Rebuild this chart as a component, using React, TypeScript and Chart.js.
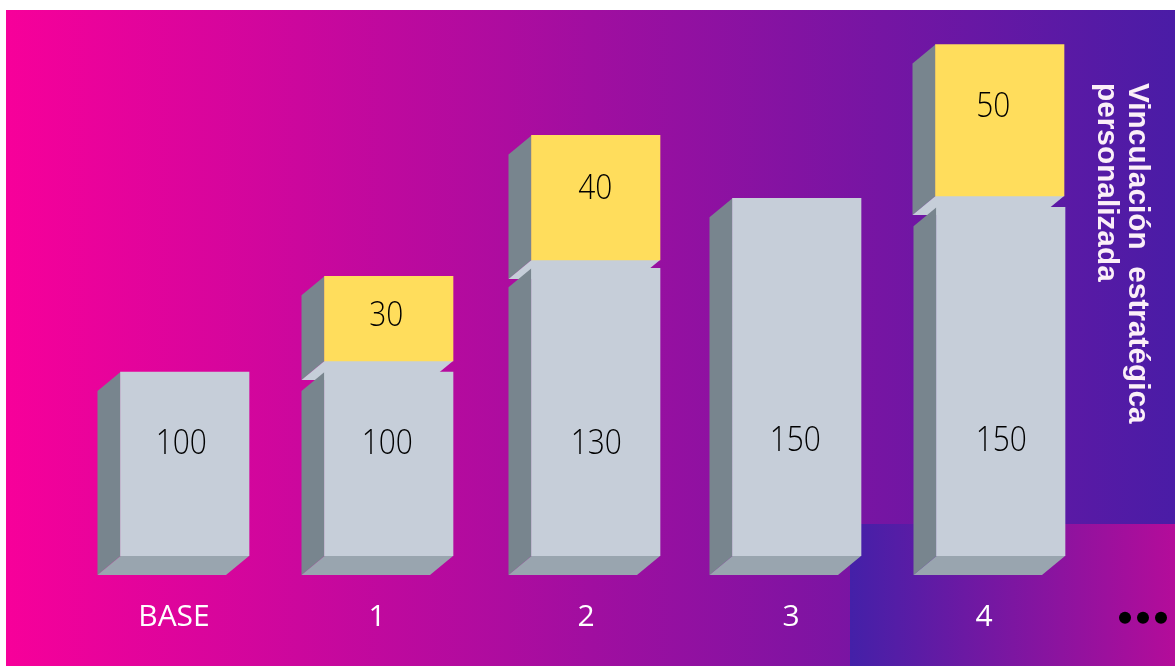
import React, { useEffect, useRef } from "react";
import { Chart, registerables } from "chart.js";

Chart.register(...registerables);

const categories = ["BASE", "1", "2", "3", "4"];
// Numbers printed on the blocks.
const grayPrinted = [100, 100, 130, 150, 150];
const yellowPrinted = [null, 30, 40, null, 50];
// The picture's blocks are not drawn to scale with the printed numbers, so their
// heights are read from the picture, in units where the BASE block is 100.
const grayHeights = [100, 100, 156.4, 194.4, 189.5];
const yellowRanges = [null, [106, 152], [160.9, 228.6], null, [195.7, 278]];
const sideTitle = ["Vinculación  estratégica", "personalizada"];

const FONT = '"Open Sans"';
const SQUEEZE = 0.88;
const DEPTH_X = 23;
const DEPTH_Y = 19;
const grayNudge = [0.25, 0.25, 3.25, 0.25, 0.25];
const yellowNudge = [0.25, 0.25, 3.25, 0.25, -0.75];
const tickNudge = [-10.5, -11.5, -6.5, -5.5, -16.5];
const grayLabelNudge = [[-3.5, -20], [-1.5, -20], [0.5, 32], [-1.5, 64], [0.5, 59.5]];
const yellowLabelNudge = [null, [-2.5, -2.5], [-0.5, -8.5], null, [-6.5, -13]];

function poly(ctx: CanvasRenderingContext2D, pts: number[][], fill: string) {
  ctx.beginPath();
  pts.forEach((p, i) => (i ? ctx.lineTo(p[0], p[1]) : ctx.moveTo(p[0], p[1])));
  ctx.closePath();
  ctx.fillStyle = fill;
  ctx.fill();
}

function blockFaces(ctx: CanvasRenderingContext2D, bar: any, bottomFill: string) {
  const x0 = bar.x - bar.width / 2;
  const x1 = bar.x + bar.width / 2;
  const top = bar.y;
  const bot = bar.base;
  poly(ctx, [[x0 - DEPTH_X, top + DEPTH_Y], [x0, top], [x0, bot], [x0 - DEPTH_X, bot + DEPTH_Y]], "#78858E");
  poly(ctx, [[x0, bot], [x1, bot], [x1 - DEPTH_X, bot + DEPTH_Y], [x0 - DEPTH_X, bot + DEPTH_Y]], bottomFill);
}

function centeredText(ctx: CanvasRenderingContext2D, text: string, x: number, y: number) {
  ctx.save();
  ctx.translate(x, y);
  ctx.scale(SQUEEZE, 1);
  ctx.font = `300 34px ${FONT}`;
  ctx.fillStyle = "#000000";
  ctx.textAlign = "center";
  ctx.textBaseline = "middle";
  ctx.fillText(text, 0, 0);
  ctx.restore();
}

const scenery = {
  id: "scenery",
  afterDatasetsUpdate(chart: any) {
    [grayNudge, yellowNudge].forEach((nudge, d) => {
      chart.getDatasetMeta(d).data.forEach((bar: any, i: number) => {
        bar.x += nudge[i];
      });
    });
  },
  beforeDraw(chart: any) {
    const ctx = chart.ctx;
    const W = chart.width;
    const H = chart.height;
    const main = ctx.createLinearGradient(6, 0, W, 0);
    main.addColorStop(0, "#F7009A");
    main.addColorStop(1, "#4A1CA6");
    ctx.fillStyle = main;
    ctx.fillRect(6, 10, W - 6, H - 10);
    const panel = ctx.createLinearGradient(850, 0, W, 0);
    panel.addColorStop(0, "#4420A8");
    panel.addColorStop(1, "#B40C9A");
    ctx.fillStyle = panel;
    ctx.fillRect(850, 524, W - 850, H - 524);
    // Shift the axis's own tick labels to where the picture has them.
    chart.scales.x.getLabelItems().forEach((item: any, i: number) => {
      item.options.translation[0] += tickNudge[i];
    });
  },
  beforeDatasetsDraw(chart: any) {
    const ctx = chart.ctx;
    chart.getDatasetMeta(1).data.forEach((bar: any, i: number) => {
      if (yellowRanges[i]) blockFaces(ctx, bar, "#C6CED9");
    });
    chart.getDatasetMeta(0).data.forEach((bar: any) => blockFaces(ctx, bar, "#99A5AF"));
  },
  afterDatasetsDraw(chart: any) {
    const ctx = chart.ctx;
    const gray = chart.getDatasetMeta(0).data;
    const yellow = chart.getDatasetMeta(1).data;
    grayPrinted.forEach((v, i) => {
      const b = gray[i];
      centeredText(ctx, String(v), b.x + grayLabelNudge[i][0], (b.y + b.base) / 2 + grayLabelNudge[i][1]);
    });
    yellowPrinted.forEach((v, i) => {
      const n = yellowLabelNudge[i];
      if (v === null || !n) return;
      const b = yellow[i];
      centeredText(ctx, String(v), b.x + n[0], (b.y + b.base) / 2 + n[1]);
    });
    // Rotated title
    ctx.save();
    ctx.font = 'bold 29.8px "Liberation Sans"';
    ctx.fillStyle = "#FBEFF8";
    ctx.textAlign = "left";
    ctx.textBaseline = "alphabetic";
    [1129, 1098].forEach((x, i) => {
      ctx.save();
      ctx.translate(x, 83);
      ctx.rotate(Math.PI / 2);
      ctx.fillText(sideTitle[i], 0, 0);
      ctx.restore();
    });
    ctx.restore();
    // Ellipsis dots
    ctx.fillStyle = "#000000";
    [1125, 1143, 1161].forEach((x) => {
      ctx.beginPath();
      ctx.arc(x, 617.7, 6, 0, Math.PI * 2);
      ctx.fill();
    });
  },
};

export default function App() {
  const ref = useRef<HTMLCanvasElement>(null);
  useEffect(() => {
    const chart = new Chart(ref.current as HTMLCanvasElement, {
      type: "bar",
      plugins: [scenery],
      data: {
        labels: categories,
        datasets: [
          { label: "Base", data: grayHeights, backgroundColor: "#C6CED9", borderWidth: 0 },
          { label: "Adicional", data: yellowRanges as any, backgroundColor: "#FFDD5C", borderWidth: 0 },
        ],
      },
      options: {
        responsive: false,
        devicePixelRatio: 1,
        animation: false,
        layout: { padding: { left: 82.5, right: 72.5, top: 40.8, bottom: 0 } },
        plugins: { legend: { display: false }, tooltip: { enabled: false } },
        datasets: { bar: { barThickness: 128.5, grouped: false } },
        scales: {
          x: {
            grid: { display: false },
            border: { display: false },
            afterFit: (s: any) => {
              s.height = 110;
            },
            ticks: { color: "#FFFFFF", padding: 35, maxRotation: 0, font: { family: FONT, size: 30, weight: "400" } },
          },
          y: { display: false, min: 0, max: 280 },
        },
      } as any,
    });
    return () => chart.destroy();
  }, []);
  return (
    <canvas
      ref={ref}
      width={1175}
      height={666}
      style={{ position: "absolute", left: 0, top: 0, width: 1175, height: 666 }}
    />
  );
}
